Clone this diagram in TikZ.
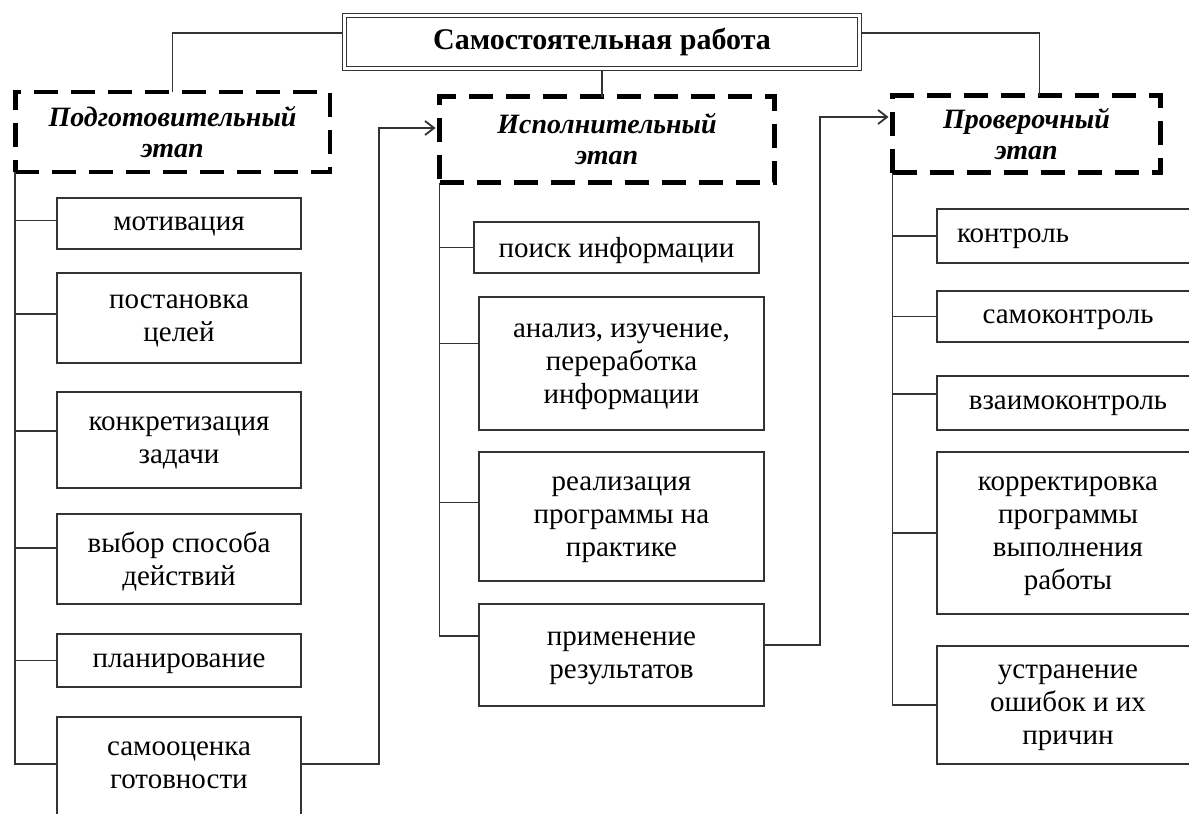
\documentclass[tikz,border=0pt]{standalone}
\usepackage{fontspec}
\setmainfont{Liberation Serif}
\usetikzlibrary{arrows.meta}
\tikzset{
  item/.style={
    draw=black!80,
    line width=1.8pt,
    minimum width=#1,
    align=center,
    inner sep=0pt,
    outer sep=0pt,
    text depth=0pt,
    font=\fontsize{29}{33}\selectfont
  },
  stage/.style={
    draw=black,
    line width=4.5pt,
    dash pattern=on 24pt off 13pt,
    minimum width=#1,
    align=center,
    outer sep=0pt,
    font=\fontsize{28}{31}\selectfont\bfseries\itshape
  },
  link/.style={
    draw=black!80,
    line width=1.8pt
  },
  jump/.style={
    link,
    shorten >=4pt,
    -{Straight Barb[length=9pt,width=14pt]}
  }
}

\begin{document}
\begin{tikzpicture}[x=1pt,y=-1pt]
\useasboundingbox (0,0) rectangle (1189,814);
% heading
\node[draw=black!80,double,double distance=2.5pt,line width=1.3pt,outer sep=2.45pt,
  minimum width=515,minimum height=53,font=\fontsize{30}{33}\selectfont\bfseries]
  (title) at (602,42) {Самостоятельная работа};
% stages
\node[stage=314.5,minimum height=80] (prep) at (172.5,132) {Подготовительный\\этап};
\node[stage=335,minimum height=86] (exec) at (607,139.5) {Исполнительный\\этап};
\node[stage=268,minimum height=77] (check) at (1026.5,134) {Проверочный\\этап};
\draw[link] ([yshift=9pt]title.west) -| (prep.north);
\draw[link] ([yshift=9pt]title.east) -| ([xshift=13pt]check.north);
\draw[link] (title.south) -- (title.south |- exec.north);
% first column
\node[item=244,minimum height=51] (motiv) at (179,223.5) {мотивация};
\node[item=244,minimum height=90] (goals) at (179,318) {постановка\\целей};
\node[item=244,minimum height=96] (task) at (179,440) {конкретизация\\задачи};
\node[item=244,minimum height=90] (choice) at (179,559) {выбор способа\\действий};
\node[item=244,minimum height=53] (plan) at (179,660.5) {планирование};
\node[item=244,minimum height=120,anchor=north] (ready) at (179,717) {};
\node[font=\fontsize{29}{33}\selectfont,align=center] (readytext) at ([yshift=-48pt]ready.north)
  {самооценка\\готовности};
% second column
\node[item=285,minimum height=51] (search) at (616.5,247.5) {поиск информации};
\node[item=285,minimum height=133] (analysis) at (621.5,363.5) {анализ, изучение,\\переработка\\информации};
\node[item=285,minimum height=129] (practice) at (621.5,516.5) {реализация\\программы на\\практике};
\node[item=285,minimum height=102] (apply) at (621.5,655) {применение\\результатов};
% third column
\node[item=262,minimum height=54,text width=222,align=left] (control) at (1068,236) {контроль};
\node[item=262,minimum height=51] (selfctl) at (1068,316.5) {самоконтроль};
\node[item=262,minimum height=54] (mutual) at (1068,403) {взаимоконтроль};
\node[item=262,minimum height=162] (correct) at (1068,533) {корректировка\\программы\\выполнения\\работы};
\node[item=262,minimum height=118] (fix) at (1068,705) {устранение\\ошибок и их\\причин};
% trunks
\draw[link] (prep.south west) |- ([yshift=-47pt]ready.north west);
\draw[link] (exec.south west) |- ([yshift=19pt]apply.west);
\draw[link] (check.south west) |- (fix.west);
\foreach \nm/\lift in {motiv/3,goals/4,task/9,choice/11,plan/0} {
  \path ([yshift=\lift pt]\nm.west) coordinate (tick);
  \draw[link] (tick) -- (tick -| prep.south west);
}
\foreach \nm/\lift in {search/0,analysis/20,practice/14} {
  \path ([yshift=\lift pt]\nm.west) coordinate (tick);
  \draw[link] (tick) -- (tick -| exec.south west);
}
\foreach \nm/\lift in {control/0,selfctl/0,mutual/9,correct/0} {
  \path ([yshift=\lift pt]\nm.west) coordinate (tick);
  \draw[link] (tick) -- (tick -| check.south west);
}
% passes to the next stage
\coordinate (bendA) at (379,128);
\coordinate (bendB) at (820,117);
\draw[jump] ([yshift=-47pt]ready.north east) -| (bendA) -- (bendA -| exec.west);
\draw[jump] ([yshift=10pt]apply.east) -| (bendB) -- (bendB -| check.west);
\end{tikzpicture}
\end{document}
